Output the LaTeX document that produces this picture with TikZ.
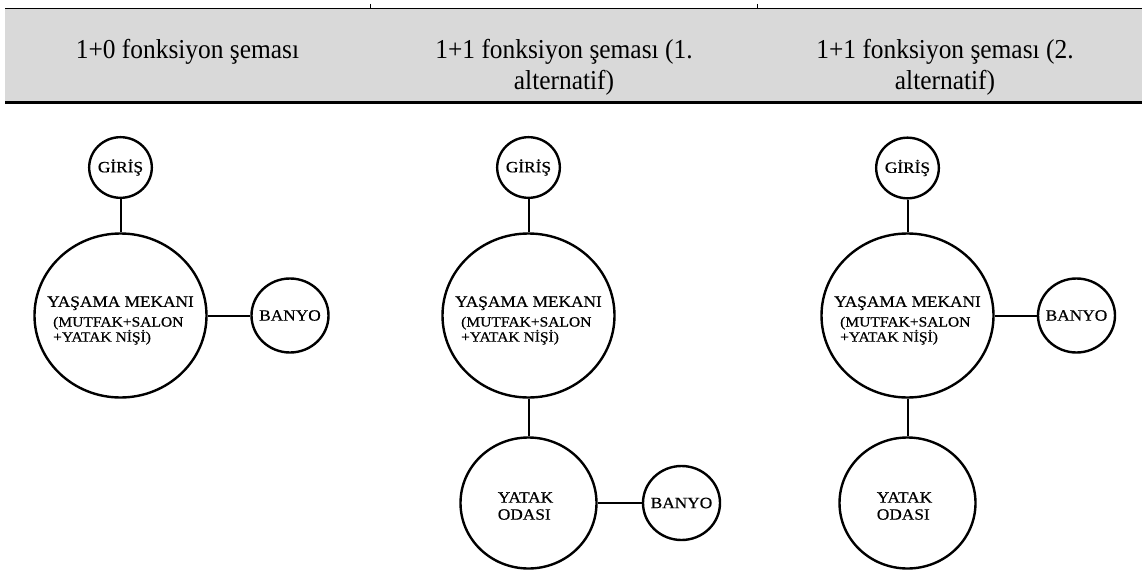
\documentclass[tikz,border=0pt]{standalone}
\usepackage{fontspec}
\setmainfont{Liberation Serif}
\newfontfamily\headfont[FakeStretch=0.93]{Liberation Serif}
\newfontfamily\roomfont[FakeStretch=1.1, FakeBold=0.6]{Liberation Serif}
\usetikzlibrary{shapes.geometric}

\begin{document}
\begin{tikzpicture}[
  x=0.75pt, y=-0.75pt,
  room/.style={draw, ellipse, line width=1.8pt, inner sep=0pt},
  entry/.style={room, minimum width=47pt, minimum height=45.5pt},
  hub/.style={room, minimum width=129pt, minimum height=123pt},
  bath/.style={room, minimum width=57.75pt, minimum height=55.5pt},
  bed/.style={room, minimum width=102pt, minimum height=98.25pt},
  txt/.style={font=\roomfont\fontsize{11.8}{12.8}\selectfont, align=left, inner sep=0pt},
  hubtxt/.style={txt, font=\roomfont\fontsize{11.8}{11.3}\selectfont, yshift=-3.75pt},
  link/.style={line width=1.5pt},
  head/.style={font=\headfont\fontsize{20.5}{23.3}\selectfont, align=center, anchor=north, inner sep=0pt}
]
\useasboundingbox (0,0) rectangle (1142,585);

\newcommand{\subtxt}{\fontsize{10.6}{11.3}\selectfont}
\newcommand{\hubtext}{YAŞAMA MEKANI\\[3.5pt]
  \hspace*{4.5pt}{\subtxt (MUTFAK+SALON}\\
  \hspace*{4.5pt}{\subtxt +YATAK NİŞİ)}}

% ---------------- header band ----------------
\fill[black!15] (5,8) rectangle (1142,101);
\draw[line width=0.7pt] (5,8) -- (1142,8);
\draw[line width=2.2pt] (5,102.5) -- (1142,102.5);
\draw[line width=0.5pt] (370,4) -- (370,8) (757,4) -- (757,8);

\node[head] (h1) at (187.5,38.5) {1+0 fonksiyon şeması};
\node[head] (h2) at (564,38.5) {1+1 fonksiyon şeması (1.\\alternatif)};
\node[head] (h3) at (945,38.5) {1+1 fonksiyon şeması (2.\\alternatif)};

% ---------------- 1+0 ----------------
\node[entry, label={[txt]center:GİRİŞ}] (in1) at (120.5,167.5) {};
\node[hub, label={[hubtxt]center:\hubtext}] (live1) at (120.5,315.5) {};
\node[bath, label={[txt]center:BANYO}] (bath1) at (290,315.5) {};

\draw[link] (in1) -- (live1);
\draw[link] (live1) -- (bath1);

% ---------------- 1+1, first variant ----------------
\node[entry, label={[txt]center:GİRİŞ}] (in2) at (528.5,167.5) {};
\node[hub, label={[hubtxt]center:\hubtext}] (live2) at (528.5,315.5) {};
\node[bed, label={[txt, xshift=-2.25pt, yshift=-2.25pt]center:YATAK\\ODASI}] (bed2) at (528.5,503) {};
\node[bath, label={[txt]center:BANYO}] (bath2) at (681.5,503) {};

\draw[link] (in2) -- (live2);
\draw[link] (live2) -- (bed2);
\draw[link] (bed2) -- (bath2);

% ---------------- 1+1, second variant ----------------
\node[entry, label={[txt]center:GİRİŞ}] (in3) at (907.5,168) {};
\node[hub, label={[hubtxt]center:\hubtext}] (live3) at (907.5,315.5) {};
\node[bath, label={[txt]center:BANYO}] (bath3) at (1076.5,315.5) {};
\node[bed, label={[txt, xshift=-2.25pt, yshift=-2.25pt]center:YATAK\\ODASI}] (bed3) at (907.5,503) {};

\draw[link] (in3) -- (live3);
\draw[link] (live3) -- (bath3);
\draw[link] (live3) -- (bed3);

\end{tikzpicture}
\end{document}
